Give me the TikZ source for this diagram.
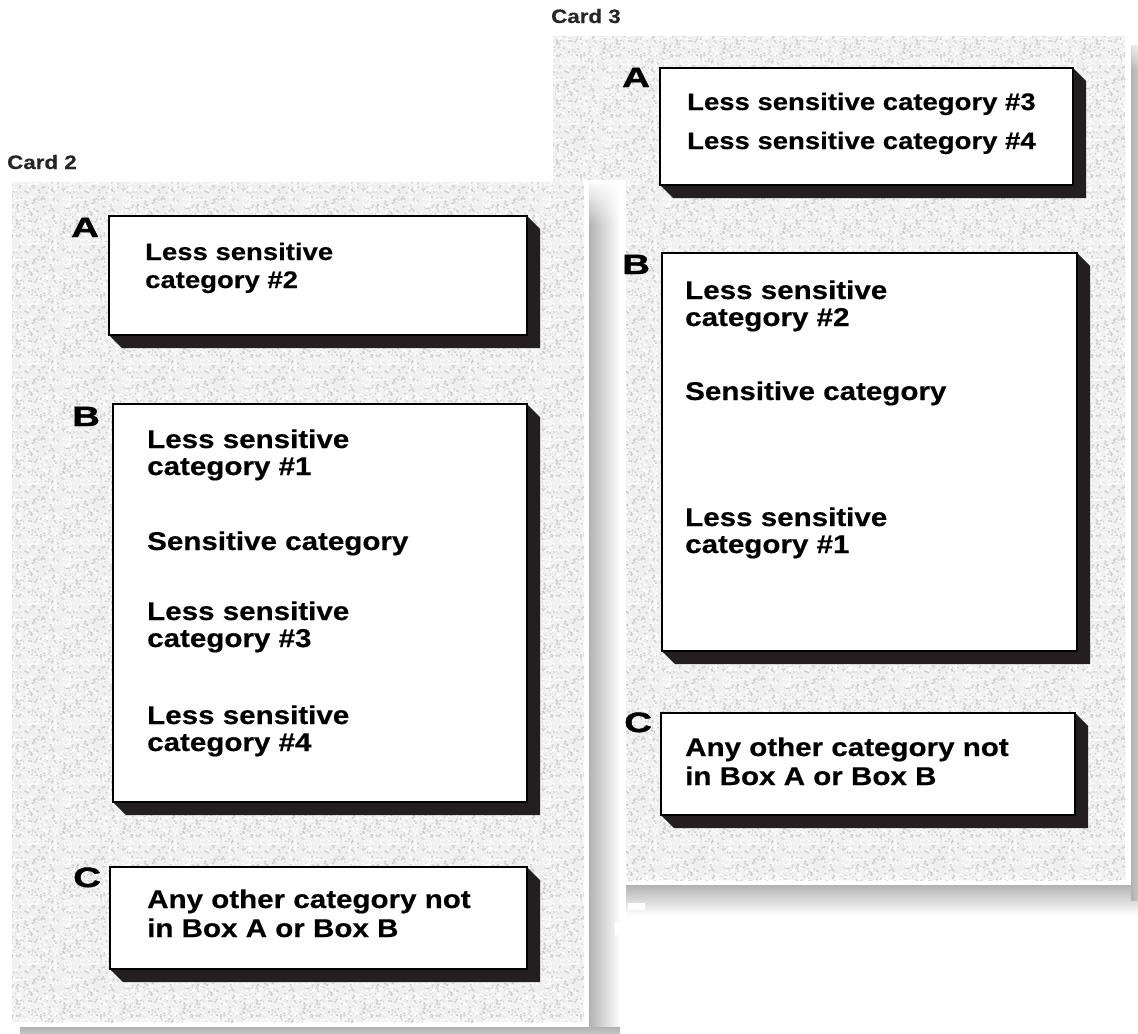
\documentclass[tikz,border=0pt]{standalone}
\usepackage{fontspec}
\setmainfont{Liberation Sans}[FakeStretch=1.15, BoldFeatures={FakeBold=0.4}]
\newfontfamily\bigletter{Liberation Sans}[FakeStretch=1.38, BoldFeatures={FakeBold=1.6}]
\usetikzlibrary{patterns,fadings}
\definecolor{shadowdark}{HTML}{231F20}
\pgfmathsetseed{4242}
\pgfdeclarepatternformonly{speckdark}{\pgfpoint{0bp}{0bp}}{\pgfpoint{60bp}{60bp}}{\pgfpoint{60bp}{60bp}}{%
  \foreach \i in {1,...,220}{\pgfmathsetmacro\px{rnd*58}\pgfmathsetmacro\py{rnd*58}%
    \pgfpathrectangle{\pgfpoint{\px bp}{\py bp}}{\pgfpoint{1.6bp}{1.6bp}}\pgfusepath{fill}}}
\pgfdeclarepatternformonly{specklight}{\pgfpoint{0bp}{0bp}}{\pgfpoint{60bp}{60bp}}{\pgfpoint{60bp}{60bp}}{%
  \foreach \i in {1,...,220}{\pgfmathsetmacro\px{rnd*58}\pgfmathsetmacro\py{rnd*58}%
    \pgfpathrectangle{\pgfpoint{\px bp}{\py bp}}{\pgfpoint{1.8bp}{1.8bp}}\pgfusepath{fill}}}
\tikzset{
  box/.style={draw=black, line width=1.1bp, fill=white, anchor=north west, inner sep=0pt, outer sep=0pt},
  boxshade/.style={fill=shadowdark},
  txtA/.style={anchor=base west, inner sep=0pt, font=\fontsize{24}{28}\selectfont\bfseries},
  txt/.style={anchor=base west, inner sep=0pt, font=\fontsize{25.8}{29}\selectfont\bfseries},
  lab/.style={anchor=base west, inner sep=0pt, font=\fontsize{28}{30}\selectfont\bigletter\bfseries},
  cardlab/.style={anchor=base west, inner sep=0pt, font=\fontsize{19.5}{22}\selectfont\bfseries, text=black!85},
}
\newcommand\speckle[4]{%
  \fill[gray!12] (#1,#2) rectangle ++(#3,#4);
  \fill[pattern=speckdark, pattern color=gray!40] (#1,#2) rectangle ++(#3,#4);
  \fill[pattern=specklight, pattern color=white] (#1,#2) rectangle ++(#3,#4);
}
\newcommand\cardbox[5]{%
  \fill[boxshade] (#4,#3) -- ++(13,13) -- ({#4+13},{#5+13}) -- ({#2+13},{#5+13}) -- (#2,#5) -- cycle;
  \node[box, minimum width={(#4-#2)*1bp}, minimum height={(#5-#3)*1bp}] (#1) at (#2,#3) {};}
\begin{document}
\begin{tikzpicture}[x=1bp, y=-1bp]
\useasboundingbox (0,0) rectangle (1138,1034);
\fill[white] (0,0) rectangle (1138,1034);
% ---- Card 3 (behind)
\shade[top color=gray!60, bottom color=white] (560,885) rectangle (1138,915);
\shade[left color=gray!60, right color=gray!45] (1131,45) rectangle (1138,900);
\fill[white, path fading=south] (1131,36) rectangle (1138,70);
\speckle{553}{36}{572}{844}
% ---- Card 2 (front)
\fill[white] (584,180) rectangle (626,1034);
\fill[white] (0,1022) rectangle (626,1034);
\shade[left color=gray!60, right color=white] (589,181) rectangle (620,1034);
\fill[white, path fading=south] (589,180) rectangle (620,225);
\shade[top color=gray!60, bottom color=gray!45] (20,1027) rectangle (620,1034);
\fill[white] (628,903) rectangle (645,910);
\fill[white] (615,922) rectangle (623,935);
\speckle{12}{182}{572}{840}

% card titles
\node[cardlab] (t2) at (7,169) {Card 2};
\node[cardlab] (t3) at (551,23) {Card 3};

% ---- Card 2 boxes
\cardbox{c2A}{109}{216}{527}{335}
\cardbox{c2B}{113}{404}{527}{802}
\cardbox{c2C}{110}{867}{527}{969}
\node[lab] (c2Al) at (71,237) {A};
\node[lab] (c2Bl) at (72,426) {B};
\node[lab] (c2Cl) at (73,887) {C};

\node[txtA] (c2a1) at (145,260) {Less sensitive};
\node[txtA] (c2a2) at (145,288) {category \#2};

\node[txt] (c2b1) at (147,448) {Less sensitive};
\node[txt] (c2b2) at (147,475) {category \#1};
\node[txt] (c2b3) at (147,550) {Sensitive category};
\node[txt] (c2b4) at (147,620) {Less sensitive};
\node[txt] (c2b5) at (147,647) {category \#3};
\node[txt] (c2b6) at (147,724) {Less sensitive};
\node[txt] (c2b7) at (147,751) {category \#4};

\node[txt] (c2c1) at (147,908) {Any other category not};
\node[txt] (c2c2) at (147,937) {in Box A or Box B};

% ---- Card 3 boxes
\cardbox{c3A}{660}{68}{1073}{185}
\cardbox{c3B}{662}{253}{1077}{651}
\cardbox{c3C}{661}{713}{1075}{815}
\node[lab] (c3Al) at (622,87) {A};
\node[lab] (c3Bl) at (622,274) {B};
\node[lab] (c3Cl) at (624,732) {C};

\node[txtA] (c3a1) at (687,110) {Less sensitive category \#3};
\node[txtA] (c3a2) at (687,149) {Less sensitive category \#4};

\node[txt] (c3b1) at (685,299) {Less sensitive};
\node[txt] (c3b2) at (685,326) {category \#2};
\node[txt] (c3b3) at (685,400) {Sensitive category};
\node[txt] (c3b4) at (685,526) {Less sensitive};
\node[txt] (c3b5) at (685,553) {category \#1};

\node[txt] (c3c1) at (685,756) {Any other category not};
\node[txt] (c3c2) at (685,785) {in Box A or Box B};
\end{tikzpicture}
\end{document}
